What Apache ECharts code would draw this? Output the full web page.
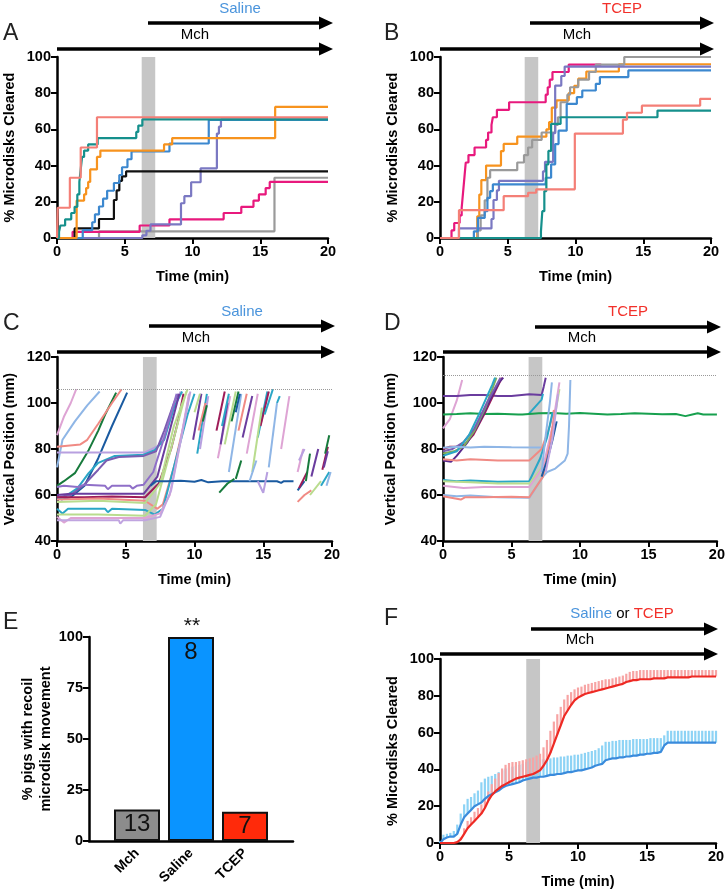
<!DOCTYPE html>
<html lang="en">
<head>
<meta charset="UTF-8">
<title>Microdisk clearance</title>
<script src="https://cdn.jsdelivr.net/npm/echarts@6/dist/echarts.min.js"></script>
<style>html,body{margin:0;background:#fff}#chart{width:728px;height:894px}</style>
</head>
<body>
<div id="chart"></div>
<script>
// data: [time (min), value]
var BAND = [6.25, 7.25];

// A - Saline, % microdisks cleared (step traces)
var aSalmon = [[0,0],[0.05,16.7],[0.95,33.3],[1.75,50],[2.95,66.7],[20,66.7]];
var aTeal = [[0,0],[0.15,3.5],[0.25,6.9],[0.6,10.3],[1.05,13.8],[1.3,17.2],[1.5,24.1],[1.65,31],[1.75,37.9],[1.85,44.8],[2.0,48.3],[2.3,51.7],[3.0,55.2],[5.85,58.6],[6.0,62.1],[6.3,65.5],[20,65.5]];
var aOrange = [[0,0],[1.45,20.7],[2.0,24.1],[2.15,27.6],[2.3,31],[2.45,37.9],[2.95,44.8],[3.2,48.3],[7.9,51.7],[8.5,55.2],[16.1,72.4],[20,72.4]];
var aBlue = [[0,0],[1.9,4.3],[2.6,8.7],[2.8,13],[3.1,17.4],[3.4,21.7],[3.7,26.1],[4.2,30.4],[4.6,34.8],[4.8,39.1],[5.2,43.5],[5.5,47.8],[8.3,52.2],[11.2,65.2],[20,65.2]];
var aBlack = [[0,0],[1.3,5.3],[3.1,10.5],[4.2,21],[4.4,26.3],[4.6,31.6],[4.8,34],[5.1,36.8],[20,36.8]];
var aPurple = [[0,0],[6.3,1.5],[6.6,4],[6.9,7.5],[9.15,19.2],[9.4,23.1],[9.9,30.8],[10.6,38.5],[11.8,57.7],[11.95,61.5],[12.1,65.4],[20,65.4]];
var aMagenta = [[0,0],[1.15,3.4],[6.1,6.9],[8.3,10.3],[12.3,13.8],[13.6,17.2],[14.5,20.7],[14.9,24.1],[15.4,27.6],[15.7,31],[20,31]];
var aGray = [[0,0],[3.1,3.7],[16.05,33.3],[20,33.3]];

// B - TCEP, % microdisks cleared
var bMagenta = [[0,0],[0.85,4.2],[1.05,8.3],[1.45,12.5],[1.6,16.7],[1.7,25],[1.8,33.3],[1.9,41.7],[2.1,45.8],[2.55,50],[3.4,54.2],[3.55,58.3],[3.8,62.5],[3.9,66.7],[4.2,70.8],[5.1,75],[7.8,79.2],[7.95,83.3],[8.1,87.5],[8.3,91.7],[9.5,95.8],[11.9,95.8]];
var bOrange = [[0,0],[2.75,12],[2.9,24],[3.05,32],[3.4,40],[4.5,48],[4.7,52],[5.7,56],[7.85,60],[8.05,64],[8.25,72],[8.6,76],[9.5,80],[9.9,84],[10.2,88],[10.8,92],[13.2,96],[20,96]];
var bGray = [[0,0],[2.8,4.2],[3.0,12.5],[3.3,20.8],[3.5,33.3],[3.7,37.5],[5.7,41.7],[6.2,45.8],[6.5,50],[6.8,54.2],[7.5,58.3],[8.5,62.5],[8.7,66.7],[8.9,75],[9.4,79.2],[9.6,83.3],[10.2,87.5],[11.0,91.7],[11.5,95.8],[13.6,100],[20,100]];
var bPurple = [[0,0],[1.4,5.3],[3.8,10.5],[3.95,21],[4.2,26.3],[4.35,31.6],[7.6,36.8],[7.75,42.1],[8.35,57.9],[8.5,84.2],[8.95,89.5],[9.2,94.7],[20,94.7]];
var bBlue = [[0,0],[2.5,3.7],[2.8,11.1],[3.3,14.8],[3.5,22.2],[3.7,25.9],[3.9,29.6],[7.8,33.3],[8.2,40.7],[8.5,51.9],[8.75,59.3],[9.35,74.1],[10.1,77.8],[10.5,81.5],[11.5,85.2],[11.8,88.9],[13.9,92.6],[20,92.6]];
var bTeal = [[0,0],[7.45,3.7],[7.55,14.8],[7.7,25.9],[7.85,40.7],[8.0,48.1],[8.2,63],[8.9,66.7],[16.05,70.4],[20,70.4]];
var bSalmon = [[0,0],[1.4,15.4],[4.7,23.1],[6.5,25],[7.1,26.9],[9.95,57.7],[13.5,65.4],[13.8,69.2],[14.9,73.1],[19.2,76.9],[20,76.9]];

// C - Saline, vertical position (mm)
var cPink = [[0,86],[0.5,94],[1.0,100],[1.4,106]];
var cLBlue = [[0,72],[0.4,84],[1.3,92],[2.2,99],[3.1,105]];
var cDGreen = [[0,64],[0.5,66],[1.3,69.5],[2.3,79.5],[3.0,88],[3.5,95],[4.3,104.5]];
var cSalmon81 = [[0,81],[1.7,82],[2.2,84],[3,91],[4,100],[4.7,106]];
var cNavy = [[0.3,58],[1,59],[2,64],[3,76],[4,90],[5.1,104.5]];
var cLav78 = [[0,78.5],[3,78.5],[6.4,78.5],[7.4,81.5],[7.9,87],[8.5,98],[9,105]];
var cCyanRise = [[0,58],[0.5,59],[1.5,63],[2.3,69.5],[3,74],[4.2,77],[6.3,77.5],[7.1,79.5],[7.8,84],[8.5,98],[9.1,105]];
var cPurpleRise = [[0,59],[1,60],[1.9,64],[3,71],[3.6,75],[4.5,76.5],[6.3,77],[7.2,79],[7.8,88],[8.5,100],[8.8,104]];
var cPurple64 = [[0,63.5],[0.5,64],[1.5,63.5],[2,64.5],[3.5,64],[3.7,62.5],[4,64],[5.3,64],[5.5,62.8],[5.8,64],[6.3,64.5],[7,70],[7.8,85],[8.7,104]];
var cDPurple60 = [[0,60],[1,60.5],[3,60.5],[6.3,60.5],[7.3,68],[8.2,88],[8.9,104]];
var cMaroon59 = [[0,59],[2,59],[4,59.3],[6.4,59],[7.4,65],[8.3,80],[8.8,92],[9.2,104]];
var cSalmon58 = [[0,58],[3,58.5],[6.4,57.5],[7.3,54],[7.7,56],[8.5,72],[9.2,90],[9.6,103]];
var cLGreen57 = [[0,57],[3,57.5],[6.4,56.5],[7.5,65],[8.5,90],[9.5,106]];
var cCyan54 = [[0,54],[0.4,52],[0.8,54],[2,54],[3.5,54],[3.7,52.5],[4,54],[6.4,53.5],[7.1,51.5],[7.7,54],[8.8,79],[9.5,95],[10,104]];
var cLGreen51 = [[0,51.5],[3,51.5],[6.4,51],[7.2,56],[8.2,78],[9.4,105]];
var cLilac50 = [[0,50.5],[0.5,48],[1,50],[3,50],[6.4,50],[7.5,52],[8.2,60],[9,84],[9.6,104]];
var cLilac49 = [[0,49],[2,49],[4.5,49],[4.6,47.5],[4.8,49],[6.4,49],[7.5,50.5],[8.3,62],[9.2,90],[9.7,105]];
var cNavyFlat = [[6.8,64],[7.2,66],[8,66],[9,66.2],[10,65.8],[10.5,66.5],[11,65.5],[12,66],[13,66],[14,66],[15,66],[16,66],[16.3,65.3],[16.5,66],[17.2,66]];
// C - recoil fragments after the saline dose
var cRecoil = [
  [[9.9,84],[10.5,104]], [[10.2,78],[10.9,104]], [[10.4,80],[11.0,103]], [[10.3,88],[10.8,100]],
  [[10.6,92],[10.9,99]], [[10.0,96],[10.4,104]], [[11.6,88],[12.2,105]], [[11.7,76],[12.6,103]],
  [[11.9,82],[12.4,100]], [[12.2,82],[13.0,105]], [[12.7,92],[13.2,105]], [[12.5,70],[13.4,104]],
  [[12.0,90],[12.5,104]], [[13.2,88],[13.8,104]], [[13.5,85],[14.2,103]], [[13.8,78],[14.6,104]],
  [[13.0,96],[13.3,104]], [[14.6,85],[15.3,105]], [[14.8,90],[15.4,105]], [[14.2,70],[14.9,98]],
  [[14.6,66],[15.0,61],[15.3,70]], [[15.1,95],[15.7,106]], [[16.0,100],[16.2,103]], [[16.3,80],[16.9,103]],
  [[15.4,72],[16.0,100]], [[11.8,61],[12.4,65],[12.9,67]], [[13.0,67],[13.4,75]], [[14.0,66],[14.5,75]],
  [[17.5,70],[17.9,80]], [[17.5,57],[18.0,60],[18.5,62]], [[17.5,62],[18.0,66]], [[17.6,63],[18.2,70]],
  [[18.1,66],[18.4,78]], [[18.5,68],[19.0,80]], [[18.4,60],[19.2,66]], [[19.2,64],[19.8,70]],
  [[19.3,71],[19.7,81]], [[19.5,78],[19.8,86]], [[19.4,72],[19.7,79]], [[19.6,64],[19.9,70]],
  [[17.6,75],[18.0,80]]
];

// D - TCEP, vertical position (mm)
var dPink = [[0,89],[0.5,93],[1.0,101],[1.4,110]];
var dPurpleTop = [[0,103],[1,103],[2,103.5],[3,103.5],[4,103],[5,103],[6.3,103.8],[7.2,103.5],[7.35,107],[7.5,111]];
var dTeal = [[6.3,95.5],[7.2,101.5],[7.3,104]];
var dGreen = [[0,95],[1,95.2],[2,95.5],[3,95.2],[4,95.3],[5.5,95],[5.6,94.3],[5.8,95],[7,95.5],[8,95.6],[9,95.3],[10,95.6],[11,95.3],[12,95],[13,95.2],[14,95.5],[15,95.3],[16,95.1],[17,95.2],[17.7,94.3],[18.2,95],[18.6,95.5],[19,95],[20,95]];
var dMaroon = [[0,80],[0.5,81],[1,81],[1.6,82],[2.2,86],[3,95],[3.8,105],[4.3,111]];
var dDarkPurple = [[0,75],[0.6,74.5],[1,77],[1.8,83],[2.6,91],[3.4,101],[4.1,109],[4.4,111]];
var dClusterGreen = [[0,78],[0.8,79],[1.5,81],[2.3,88],[3.1,98],[3.9,111]];
var dSlate = [[0,79],[0.7,80],[1.5,83],[2.3,89],[3.2,100],[4.2,111]];
var dCyanCluster = [[0,77],[1,79],[1.9,86],[2.7,96],[3.6,108],[3.8,111]];
var dLBlue81 = [[0,80.5],[1,81],[2,80.7],[3,81],[5,80.8],[7.2,80.6]];
var dSalmon75 = [[0,75.5],[1,75],[2,75.5],[4,75],[6.3,75],[7.2,80],[7.8,90],[8.1,97]];
var dCyan66 = [[0,66.5],[1,66],[2,66.3],[4,65.8],[6.3,66],[7.1,76],[7.6,85],[8.0,96]];
var dLGreen65 = [[0,66],[2,65.5],[4,65],[6.3,65],[7.5,74],[8.1,92],[8.5,106]];
var dLilac64 = [[0,64],[1.5,63],[3,63.5],[5,63.5],[6.3,63.5],[7.3,72],[8.0,90],[8.5,109]];
var dLBlue60 = [[0,60],[1,59.5],[2,59.8],[4,59],[6.3,58.8],[7.3,68],[7.6,70],[8.2,71.5],[8.9,75],[9.1,78],[9.2,90],[9.3,110]];
var dSalmon59 = [[0,59.5],[1.3,58],[1.6,59],[3,59],[5,59.2],[6.3,59],[7.3,68],[7.8,82],[8.2,97]];
var dLBlue2 = [[7.2,70],[7.5,86],[7.8,100],[7.95,109]];
var dNavy = [[7.2,68],[7.6,75],[8.0,84],[8.3,92]];
var dLilac2 = [[7.5,70],[8.0,85],[8.4,104]];

// E - % pigs with recoil microdisk movement
var eGroups = ['Mch', 'Saline', 'TCEP'];
var eValues = [15.4, 100, 14.3];
var eCounts = [13, 8, 7];

// F - mean % cleared with SEM (upper), sampled every 0.25 min
var fTime = [0,0.25,0.5,0.75,1,1.25,1.5,1.75,2,2.25,2.5,2.75,3,3.25,3.5,3.75,4,4.25,4.5,4.75,5,5.25,5.5,5.75,6,6.25,6.5,6.75,7,7.25,7.5,7.75,8,8.25,8.5,8.75,9,9.25,9.5,9.75,10,10.25,10.5,10.75,11,11.25,11.5,11.75,12,12.25,12.5,12.75,13,13.25,13.5,13.75,14,14.25,14.5,14.75,15,15.25,15.5,15.75,16,16.25,16.5,16.75,17,17.25,17.5,17.75,18,18.25,18.5,18.75,19,19.25,19.5,19.75,20];
var fSalineMean = [0,2,3,3.5,3.5,5,10,14,16,18, 20,21,22,24,25.5,26.5,27.5,28.5,30,31, 31.5,32,32.5,33,34,34.5,35,35.5,35.5,36, 36,36.5,37,37,37.5,37.5,38,38.5,38.5,39, 39.5,39.5,40,40.5,41,42,42.5,43,45,45.5, 46,46,46.5,46.5,47,47,47.5,47.5,48,48, 48.5,48.5,49,49,49.5,53,54.5,54.5,54.5,54.5, 54.5,54.5,54.5,54.5,54.5,54.5,54.5,54.5,54.5,54.5,54.5];
var fSalineUpper = [1,4.5,5,5.5,6.5,10,16,21,24,25, 27,28.5,33,35,36,36.5,37.5,38.5,39.5,40.5, 41,41.5,42,42.5,43,44,44.5,45,45,45.5, 45.5,46,46,46.5,46.5,47,47,47.5,47.5,48, 48,48.5,49,49.5,50,50.5,51.5,53,55,55, 55.5,55.5,56,56,56,56,56.5,56.5,56.5,56.5, 56.5,57,57,57,57,58.5,61,61,61,61, 61,61,61,61,61,61,61,61,61,61,61];
var fTcepMean = [0,0,0,0,0,0.5,2,5,8,10, 12,14,16,19,23,26,28,29.5,31,32, 33,34,35,35.5,36,36.5,37,37.5,38.5,39.5, 42,45,49,54,59,64,69,72,75,77.5, 79,80,81,81.5,82,82.5,83,83.5,84,84.5, 85,85.5,86,86.5,87.5,88,88.5,88.5,89,89, 89,89,89.5,89.5,89.5,89.5,90,90,90,90, 90,90,90,90.5,90.5,90.5,90.5,90.5,90.5,90.5,90.5];
var fTcepUpper = [0,0,0,0,0,1,3,8,12,14, 17,19,21,24,28,32,35,38,40.5,42.5, 43.5,44,44,44.5,45,45.5,46,46.5,47.5,48.5, 52,56,61,66,70,74,78,80.5,82,83.5, 84.5,85,86,86.5,87,87.5,88,88.5,89,89, 89.5,90,90.5,91,92,93,93.5,93.5,94,94, 94,94,94,94,94,94,94,94,94,94, 94,94,94,94,94,94,94,94,94,94,94];

// styles
var FONT = '"Liberation Sans", Arial, sans-serif';
var SALINE_TXT = '#4a94dc', TCEP_TXT = '#f2302a';
var aColors = ['#f47f77', '#15908c', '#f7931e', '#3c88cf', '#111111', '#7a78c2', '#e8197d', '#9a9a9a'];
var bColors = ['#e8197d', '#f7931e', '#9a9a9a', '#7a78c2', '#3c88cf', '#15908c', '#f47f77'];
var pal = {pink:'#dea4d4', lblue:'#8fb6e6', dgreen:'#177a3c', salmon:'#f08a84', navy:'#1a5aa0', lav:'#b8a0e0',
           purple:'#6a3c9e', cyan:'#2aa6c6', maroon:'#9e1c58', lgreen:'#b9dc8e', slate:'#7b5cb0', green:'#17a04e'};
var cColors = [pal.pink, pal.lblue, pal.dgreen, pal.salmon, pal.navy, pal.lav, pal.cyan, pal.slate, '#8f6fc8',
               pal.purple, pal.maroon, pal.salmon, pal.lgreen, pal.cyan, pal.lgreen, pal.pink, '#c0a4e0', pal.navy];
var cRecoilColors = ['purple','cyan','lav','salmon','dgreen','lgreen','maroon','pink','purple','lgreen','dgreen','lblue',
  'cyan','salmon','purple','pink','navy','cyan','maroon','lgreen','lav','cyan','cyan','pink','lblue','dgreen','dgreen','lblue',
  'pink','salmon','navy','maroon','dgreen','purple','lgreen','cyan','maroon','dgreen','purple','lblue','lav'];
var dColors = [pal.pink, pal.purple, pal.cyan, pal.green, pal.maroon, '#5a2a8e', '#7fae5c', pal.slate, pal.cyan, pal.lblue,
               pal.salmon, pal.cyan, pal.lgreen, pal.pink, pal.lblue, pal.salmon, pal.lblue, pal.navy, '#c0a4e0'];
var eColors = ['#8c8c8c', '#0a94ff', '#ff2a0a'];

var chart = echarts.init(document.getElementById('chart'));

function valAxis(gi, min, max, interval, extra) {
  return Object.assign({
    type: 'value', gridIndex: gi, min: min, max: max, interval: interval,
    axisLine: {show: true, lineStyle: {color: '#000', width: 2.5}},
    axisTick: {show: true, length: 6, lineStyle: {color: '#000', width: 2}},
    axisLabel: {color: '#000', fontWeight: 'bold', fontSize: 14.5, fontFamily: FONT, margin: 6},
    splitLine: {show: false},
    nameLocation: 'middle',
    nameTextStyle: {color: '#000', fontWeight: 'bold', fontSize: 14.5, fontFamily: FONT, lineHeight: 18}
  }, extra || {});
}
function timeAxis(gi) { return valAxis(gi, 0, 20, 5, {name: 'Time (min)', nameGap: 30}); }

function band(gi, z) {
  return {type: 'line', xAxisIndex: gi, yAxisIndex: gi, data: [], silent: true, z: z || 1,
    markArea: {silent: true, itemStyle: {color: '#c6c6c6'}, data: [[{xAxis: BAND[0]}, {xAxis: BAND[1]}]]}};
}
function trace(gi, pts, color, step, width) {
  return {type: 'line', xAxisIndex: gi, yAxisIndex: gi, data: pts, step: step || false,
    showSymbol: false, symbol: 'none', silent: true, z: 2,
    lineStyle: {color: color, width: width || 2}, itemStyle: {color: color}};
}
function errBars(mean, upper, color) {
  return {type: 'custom', xAxisIndex: 6, yAxisIndex: 6, z: 1, silent: true,
    data: fTime.map(function (t, i) { return [t, mean[i], upper[i]]; }),
    encode: {x: 0, y: [1, 2]},
    renderItem: function (params, api) {
      var a = api.coord([api.value(0), api.value(1)]);
      var b = api.coord([api.value(0), api.value(2)]);
      return {type: 'line', shape: {x1: a[0], y1: a[1], x2: b[0], y2: b[1]}, style: {stroke: color, lineWidth: 2.2}};
    }};
}

var series = [];
series.push(band(0), band(1), band(2), band(3), band(6, 2));

[aGray, aMagenta, aPurple, aBlack, aBlue, aOrange, aTeal, aSalmon].forEach(function (d, i) {
  series.push(trace(0, d, aColors[7 - i], 'end', 2.2));
});
[bMagenta, bOrange, bGray, bPurple, bBlue, bTeal, bSalmon].forEach(function (d, i) {
  series.push(trace(1, d, bColors[i], 'end', 2.2));
});

var cTraces = [cPink, cLBlue, cDGreen, cSalmon81, cNavy, cLav78, cCyanRise, cPurpleRise, cPurple64,
               cDPurple60, cMaroon59, cSalmon58, cLGreen57, cCyan54, cLGreen51, cLilac50, cLilac49, cNavyFlat];
cTraces.forEach(function (d, i) { series.push(trace(2, d, cColors[i])); });
cRecoil.forEach(function (d, i) { series.push(trace(2, d, pal[cRecoilColors[i]])); });
series[2].markLine = {silent: true, symbol: 'none', label: {show: false},
  lineStyle: {color: '#999', type: 'dotted', width: 1}, data: [{yAxis: 106}]};

var dTraces = [dPink, dPurpleTop, dTeal, dGreen, dMaroon, dDarkPurple, dClusterGreen, dSlate, dCyanCluster, dLBlue81,
               dSalmon75, dCyan66, dLGreen65, dLilac64, dLBlue60, dSalmon59, dLBlue2, dNavy, dLilac2];
dTraces.forEach(function (d, i) { series.push(trace(3, d, dColors[i])); });
series[3].markLine = {silent: true, symbol: 'none', label: {show: false},
  lineStyle: {color: '#999', type: 'dotted', width: 1}, data: [{yAxis: 112}]};

series.push({
  type: 'bar', xAxisIndex: 5, yAxisIndex: 5, barWidth: 46, silent: true,
  data: eValues.map(function (v, i) { return {value: v, itemStyle: {color: eColors[i]}}; }),
  itemStyle: {borderColor: '#111', borderWidth: 2},
  label: {show: true, position: 'insideTop', distance: 3, fontSize: 24, color: '#111', fontFamily: FONT,
    formatter: function (p) { return String(eCounts[p.dataIndex]); }}
});

series.push(errBars(fSalineMean, fSalineUpper, '#8dd3f5'));
series.push(errBars(fTcepMean, fTcepUpper, '#f7a4a4'));
var fBlue = trace(6, fTime.map(function (t, i) { return [t, fSalineMean[i]]; }), '#3a8bdc', false, 2.2);
var fRed = trace(6, fTime.map(function (t, i) { return [t, fTcepMean[i]]; }), '#ee2a24', false, 2.2);
fBlue.z = 3; fRed.z = 3;
series.push(fBlue, fRed);

function arrow(x1, x2, y) {
  return [
    {type: 'line', shape: {x1: x1, y1: y, x2: x2 - 12, y2: y}, style: {stroke: '#000', lineWidth: 3.5}},
    {type: 'polygon', shape: {points: [[x2 - 14, y - 6.5], [x2, y], [x2 - 14, y + 6.5]]}, style: {fill: '#000'}}
  ];
}
function txt(text, x, y, size, color, align) {
  return {type: 'text', x: x, y: y, style: {text: text, fontSize: size, fontFamily: FONT, fill: color || '#000',
    align: align || 'center', verticalAlign: 'middle'}};
}

var graphics = [
  txt('A', 3, 34, 23, '#222', 'left'), txt('B', 384, 34, 23, '#222', 'left'),
  txt('C', 3, 324, 23, '#222', 'left'), txt('D', 384, 324, 23, '#222', 'left'),
  txt('E', 3, 623, 23, '#222', 'left'), txt('F', 384, 619, 23, '#222', 'left'),
  txt('Saline', 240, 9, 15, SALINE_TXT), txt('Mch', 195, 35, 15),
  txt('TCEP', 622, 9, 15, TCEP_TXT), txt('Mch', 577, 35, 15),
  txt('Saline', 242, 312, 15, SALINE_TXT), txt('Mch', 196, 338, 15),
  txt('TCEP', 628, 312, 15, TCEP_TXT), txt('Mch', 582, 338, 15),
  txt('Mch', 580, 640, 15),
  {type: 'text', x: 622, y: 614, style: {text: '{s|Saline} or {t|TCEP}', fontSize: 15, fontFamily: FONT, fill: '#000',
    align: 'center', verticalAlign: 'middle',
    rich: {s: {fill: SALINE_TXT, fontSize: 15, fontFamily: FONT}, t: {fill: TCEP_TXT, fontSize: 15, fontFamily: FONT}}}},
  txt('**', 192, 626, 21, '#111')
].concat(
  arrow(148, 333, 23), arrow(57, 333, 49),
  arrow(530, 714, 23), arrow(440, 714, 49),
  arrow(149, 335, 326), arrow(57, 335, 352),
  arrow(535, 721, 327), arrow(443, 721, 352),
  arrow(531, 718, 629), arrow(440, 718, 654)
);

chart.setOption({
  animation: false,
  backgroundColor: '#fff',
  textStyle: {fontFamily: FONT},
  grid: [
    {left: 57, top: 57, width: 271, height: 181},
    {left: 440, top: 57, width: 271, height: 181},
    {left: 57, top: 357, width: 275, height: 184},
    {left: 443, top: 357, width: 274, height: 184},
    {left: 89, top: 637, width: 204, height: 204},
    {left: 110, top: 637, width: 162, height: 204},
    {left: 440, top: 659, width: 276, height: 184}
  ],
  xAxis: [
    timeAxis(0), timeAxis(1), timeAxis(2), timeAxis(3),
    valAxis(4, 0, 1, 1, {axisTick: {show: false}, axisLabel: {show: false}}),
    {type: 'category', gridIndex: 5, data: eGroups, axisLine: {show: false}, axisTick: {show: false},
     axisLabel: {rotate: 45, color: '#000', fontWeight: 'bold', fontSize: 14, fontFamily: FONT, margin: 10}},
    timeAxis(6)
  ],
  yAxis: [
    valAxis(0, 0, 100, 20, {name: '% Microdisks Cleared', nameGap: 38}),
    valAxis(1, 0, 100, 20, {name: '% Microdisks Cleared', nameGap: 38}),
    valAxis(2, 40, 120, 20, {name: 'Vertical Position (mm)', nameGap: 38}),
    valAxis(3, 40, 120, 20, {name: 'Vertical Position (mm)', nameGap: 43}),
    valAxis(4, 0, 100, 25, {name: '% pigs with recoil\nmicrodisk movement', nameGap: 34}),
    {type: 'value', gridIndex: 5, min: 0, max: 100, show: false},
    valAxis(6, 0, 100, 20, {name: '% Microdisks Cleared', nameGap: 38})
  ],
  graphic: graphics,
  series: series
});
</script>
</body>
</html>
